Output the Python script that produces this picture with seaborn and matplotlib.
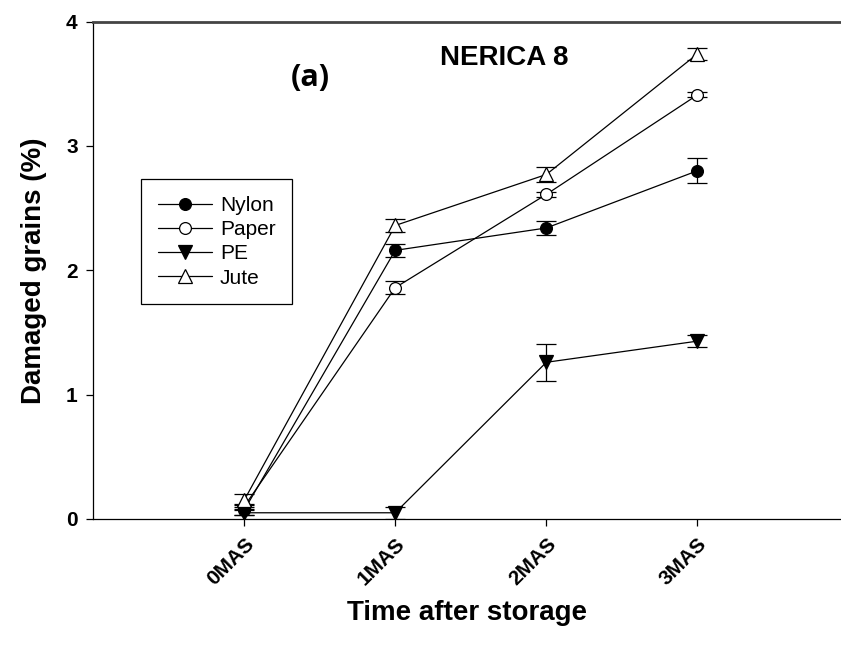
import matplotlib

matplotlib.use("Agg")
import matplotlib.pyplot as plt
import numpy as np
import seaborn as sns

# Damaged grains (%) of NERICA 8 under four storage bags.
periods = ["0MAS", "1MAS", "2MAS", "3MAS"]
nylon = [0.07, 2.16, 2.34, 2.80]
nylon_err = [0.04, 0.05, 0.06, 0.10]
paper = [0.10, 1.86, 2.61, 3.41]
paper_err = [0.02, 0.05, 0.02, 0.02]
pe = [0.05, 0.05, 1.26, 1.43]
pe_err = [0.02, 0.05, 0.15, 0.05]
jute = [0.15, 2.36, 2.77, 3.74]
jute_err = [0.05, 0.05, 0.06, 0.05]

series = [
    ("Nylon", nylon, nylon_err, "o", "black", 8.5),
    ("Paper", paper, paper_err, "o", "white", 8.5),
    ("PE", pe, pe_err, "v", "black", 9.5),
    ("Jute", jute, jute_err, "^", "white", 9.5),
]

sns.set_theme(style="ticks")
plt.rcParams["font.family"] = ["Liberation Sans", "DejaVu Sans"]
plt.rcParams.update({
    "text.color": "black",
    "axes.labelcolor": "black",
    "xtick.color": "black",
    "ytick.color": "black",
})

fig = plt.figure(figsize=(8.41, 6.52), dpi=100)
ax = fig.add_axes([0.1106, 0.204, 0.8894, 0.763])

pos = np.arange(len(periods))
for name, vals, errs, marker, face, size in series:
    ax.errorbar(pos, vals, yerr=errs, fmt="none", ecolor="black",
                elinewidth=0.9, capsize=7, capthick=0.9, zorder=2)
    sns.lineplot(x=pos, y=vals, ax=ax, color="black", linewidth=0.9,
                 marker=marker, markersize=size, markerfacecolor=face,
                 markeredgecolor="black", markeredgewidth=0.9,
                 label=name, zorder=3)

ax.set_xlim(-1.0, 3.95)
ax.set_ylim(0, 4)
ax.set_yticks([0, 1, 2, 3, 4])
ax.set_xticks(pos)
ax.set_xticklabels(periods, rotation=45, ha="right", rotation_mode="anchor",
                   fontsize=15, fontweight="bold")
for lab in ax.get_yticklabels():
    lab.set_fontsize(15)
    lab.set_fontweight("bold")
ax.tick_params(direction="out", length=5, width=0.9, colors="black", pad=6)

ax.spines["right"].set_visible(False)
ax.spines["top"].set_color("#444444")
ax.spines["top"].set_linewidth(2)
for side in ["left", "bottom"]:
    ax.spines[side].set_color("black")
    ax.spines[side].set_linewidth(0.9)

ax.set_xlabel("Time after storage", fontsize=20, fontweight="bold",
              labelpad=8)
ax.set_ylabel("Damaged grains (%)", fontsize=20, fontweight="bold",
              labelpad=14)

ax.text(0.55, 0.926, "NERICA 8", transform=ax.transAxes, fontsize=20,
        fontweight="bold", ha="center", va="center")
ax.text(0.29, 0.887, "(a)", transform=ax.transAxes, fontsize=22,
        fontweight="bold", ha="center", va="center",
        family=["Open Sans", "DejaVu Sans"])

leg = ax.legend(loc="upper left", bbox_to_anchor=(0.064, 0.683),
                borderaxespad=0, fontsize=15, handlelength=2.6,
                labelspacing=0.25, handletextpad=0.4, borderpad=0.8,
                fancybox=False, framealpha=1, edgecolor="black")
leg.get_frame().set_linewidth(0.9)

fig.savefig("out.png", dpi=100)
